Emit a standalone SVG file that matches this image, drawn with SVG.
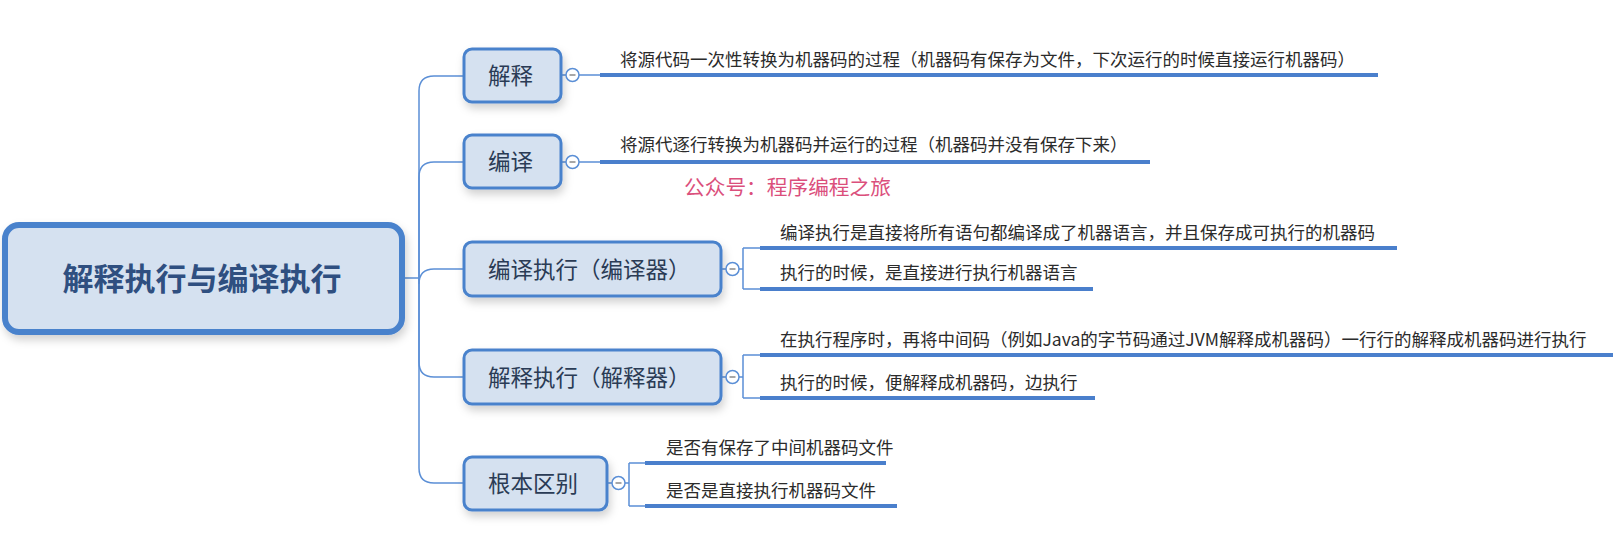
<svg xmlns="http://www.w3.org/2000/svg" width="1620" height="553" viewBox="0 0 1620 553">
<defs>
<filter id="sh" x="-20%" y="-30%" width="140%" height="180%">
<feDropShadow dx="2" dy="5" stdDeviation="4" flood-color="#000" flood-opacity="0.18"/>
</filter>
<style>
.node{fill:#d5e1f0;stroke:#4a82cc;stroke-width:3;filter:url(#sh)}
.root{fill:#d5e1f0;stroke:#4a82cc;stroke-width:6;filter:url(#sh)}
.nt{font-family:"Noto Sans CJK SC","Noto Sans",sans-serif;font-size:22.5px;fill:#2a3b55}
.rt{font-family:"Noto Sans CJK SC","Noto Sans",sans-serif;font-size:31px;font-weight:bold;fill:#2f4f80}
.st{font-family:"Noto Sans CJK SC","Noto Sans",sans-serif;font-size:17.5px;fill:#2b2b2b}
.wm{font-family:"Noto Sans CJK SC","Noto Sans",sans-serif;font-size:20.7px;fill:#db4f7c}
.ln{fill:none;stroke:#5b8fd6;stroke-width:1.5}
.ul{stroke:#4a7fcc;stroke-width:4;stroke-linecap:butt}
.cb{fill:#fff;stroke:#5b8fd6;stroke-width:1.5}
.mn{stroke:#8a8a8a;stroke-width:1.5}
</style>
</defs>
<rect width="1620" height="553" fill="#fff"/>
<g id="connectors">
<path class="ln" d="M404,278 H419"/>
<path class="ln" d="M419,278 V91 Q419,76 434,76 H464"/>
<path class="ln" d="M419,278 V177 Q419,162 434,162 H464"/>
<path class="ln" d="M419,278 V284 Q419,269 434,269 H464" />
<path class="ln" d="M419,278 V362 Q419,377 434,377 H464"/>
<path class="ln" d="M419,278 V468 Q419,483 434,483 H464"/>
<path class="ln" d="M561,75 H566 M579,75 H600"/>
<path class="ln" d="M561,162 H566 M579,162 H600"/>
<path class="ln" d="M721,269 H726 M739,269 H743 M743,248 V289 M743,248 H760 M743,289 H760"/>
<path class="ln" d="M721,377 H726 M739,377 H743 M743,355 V398 M743,355 H760 M743,398 H760"/>
<path class="ln" d="M607,483 H612 M625,483 H629 M629,463 V506 M629,463 H645 M629,506 H645"/>
<line class="ul" x1="600" y1="75" x2="1378" y2="75"/>
<line class="ul" x1="600" y1="162" x2="1150" y2="162"/>
<line class="ul" x1="760" y1="248" x2="1397" y2="248"/>
<line class="ul" x1="760" y1="289" x2="1093" y2="289"/>
<line class="ul" x1="760" y1="355" x2="1613" y2="355"/>
<line class="ul" x1="760" y1="398" x2="1095" y2="398"/>
<line class="ul" x1="645" y1="463" x2="886" y2="463"/>
<line class="ul" x1="645" y1="506" x2="897" y2="506"/>
</g>
<g id="root">
<rect class="root" x="5" y="225" width="397" height="107" rx="14"/>
<text class="rt" x="202" y="289.5" text-anchor="middle">解释执行与编译执行</text>
</g>
<g id="n1">
<rect class="node" x="464" y="49" width="97" height="53" rx="8"/>
<text class="nt" x="488" y="84">解释</text>
<circle class="cb" cx="572.5" cy="75" r="6.5"/><line class="mn" x1="569.5" y1="75" x2="575.5" y2="75"/>
<text class="st" x="620" y="65.5">将源代码一次性转换为机器码的过程（机器码有保存为文件，下次运行的时候直接运行机器码）</text>
</g>
<g id="n2">
<rect class="node" x="464" y="135" width="97" height="53" rx="8"/>
<text class="nt" x="488" y="170">编译</text>
<circle class="cb" cx="572.5" cy="162" r="6.5"/><line class="mn" x1="569.5" y1="162" x2="575.5" y2="162"/>
<text class="st" x="620" y="151">将源代逐行转换为机器码并运行的过程（机器码并没有保存下来）</text>
</g>
<g id="watermark">
<text class="wm" x="684" y="195">公众号：程序编程之旅</text>
</g>
<g id="n3">
<rect class="node" x="464" y="242" width="257" height="54" rx="8"/>
<text class="nt" x="488" y="277.5">编译执行（编译器）</text>
<circle class="cb" cx="732.5" cy="269" r="6.5"/><line class="mn" x1="729.5" y1="269" x2="735.5" y2="269"/>
<text class="st" x="780" y="238.5">编译执行是直接将所有语句都编译成了机器语言，并且保存成可执行的机器码</text>
<text class="st" x="780" y="278.5">执行的时候，是直接进行执行机器语言</text>
</g>
<g id="n4">
<rect class="node" x="464" y="350" width="257" height="54" rx="8"/>
<text class="nt" x="488" y="385.5">解释执行（解释器）</text>
<circle class="cb" cx="732.5" cy="377" r="6.5"/><line class="mn" x1="729.5" y1="377" x2="735.5" y2="377"/>
<text class="st" x="780" y="345.5">在执行程序时，再将中间码（例如Java的字节码通过JVM解释成机器码）一行行的解释成机器码进行执行</text>
<text class="st" x="780" y="388.5">执行的时候，便解释成机器码，边执行</text>
</g>
<g id="n5">
<rect class="node" x="464" y="457" width="143" height="53" rx="8"/>
<text class="nt" x="488" y="492">根本区别</text>
<circle class="cb" cx="618.5" cy="483" r="6.5"/><line class="mn" x1="615.5" y1="483" x2="621.5" y2="483"/>
<text class="st" x="666" y="453.5">是否有保存了中间机器码文件</text>
<text class="st" x="666" y="496.5">是否是直接执行机器码文件</text>
</g>
</svg>
